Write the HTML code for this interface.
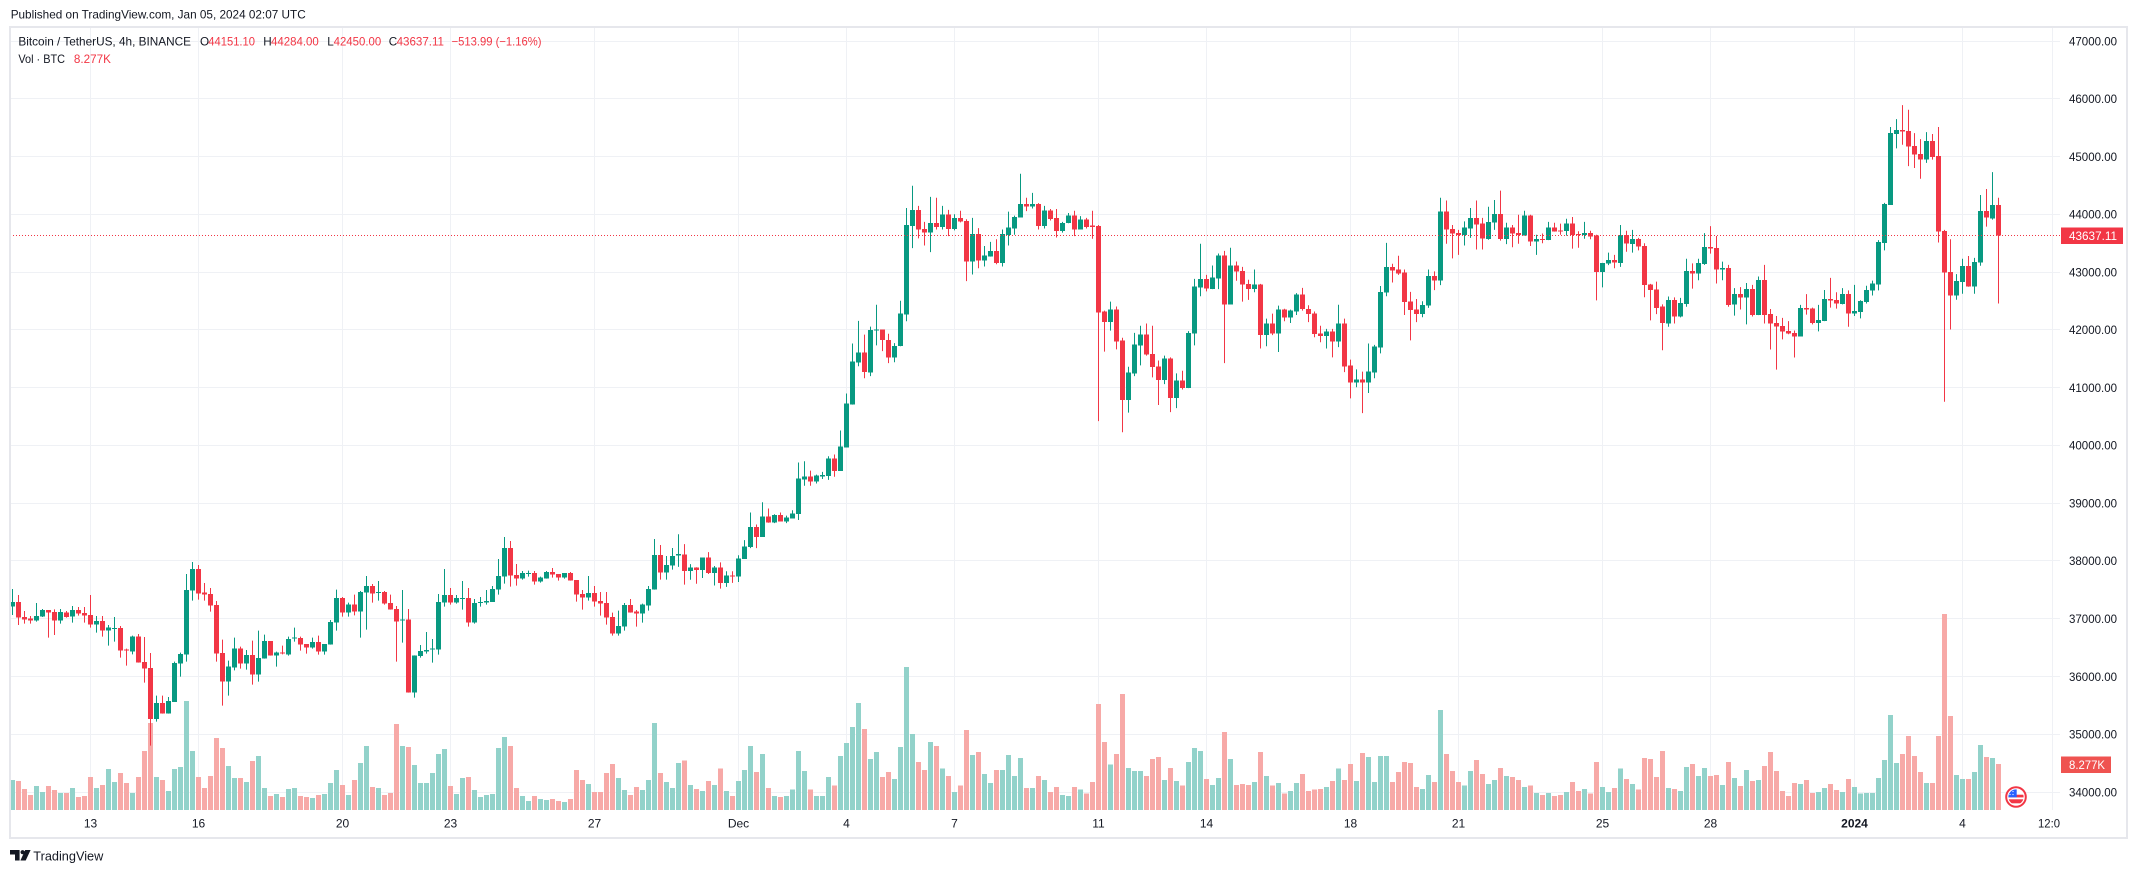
<!DOCTYPE html>
<html><head><meta charset="utf-8"><style>
html,body{margin:0;padding:0;background:#fff;}
svg{display:block;}
text{font-family:"Liberation Sans",Arial,sans-serif;}
</style></head><body>
<svg width="2137" height="873" viewBox="0 0 2137 873" xmlns="http://www.w3.org/2000/svg">
<rect width="2137" height="873" fill="#fff"/>
<!-- grid -->
<g stroke="#eff1f5" stroke-width="1" shape-rendering="crispEdges">
<path d="M10 41.5H2060M10 98.5H2060M10 156.5H2060M10 214.5H2060M10 272.5H2060M10 329.5H2060M10 387.5H2060M10 445.5H2060M10 503.5H2060M10 560.5H2060M10 618.5H2060M10 676.5H2060M10 734.5H2060M10 792.5H2060"/>
<path d="M90.5 28V810M198.5 28V810M342.5 28V810M450.5 28V810M594.5 28V810M738.5 28V810M846.5 28V810M954.5 28V810M1098.5 28V810M1206.5 28V810M1350.5 28V810M1458.5 28V810M1602.5 28V810M1710.5 28V810M1854.5 28V810M1962.5 28V810M2052.5 28V810"/>
</g>
<!-- Group A -->
<g transform="matrix(1 0 0 0.333333 0 380)" fill="none" shape-rendering="crispEdges">
<path stroke="#92d2ca" stroke-width="5" d="M12.5 1200V1290M36.5 1218V1290M42.5 1236V1290M60.5 1239V1290M72.5 1224V1290M96.5 1224V1290M108.5 1167V1290M114.5 1206V1290M132.5 1239V1290M156.5 1191V1290M168.5 1233V1290M174.5 1167V1290M180.5 1161V1290M186.5 963V1290M192.5 1113V1290M228.5 1158V1290M234.5 1194V1290M246.5 1206V1290M258.5 1128V1290M264.5 1224V1290M276.5 1242V1290M288.5 1227V1290M294.5 1224V1290M312.5 1254V1290M324.5 1242V1290M330.5 1209V1290M336.5 1170V1290"/>
<path stroke="#f7a9a7" stroke-width="5" d="M18.5 1203V1290M24.5 1227V1290M30.5 1245V1290M48.5 1218V1290M54.5 1230V1290M66.5 1239V1290M78.5 1251V1290M84.5 1248V1290M90.5 1191V1290M102.5 1215V1290M120.5 1179V1290M126.5 1209V1290M138.5 1191V1290M144.5 1113V1290M150.5 1029V1290M162.5 1200V1290M198.5 1191V1290M204.5 1224V1290M210.5 1188V1290M216.5 1074V1290M222.5 1104V1290M240.5 1194V1290M252.5 1143V1290M270.5 1248V1290M282.5 1251V1290M300.5 1248V1290M306.5 1251V1290M318.5 1245V1290"/>
<path stroke="#089981" stroke-width="5" d="M12.5 666V680M36.5 708V722M42.5 690V710M60.5 696V722M72.5 690V710M96.5 723V734M108.5 743V752M114.5 744V747M132.5 770V815M156.5 969V1017M168.5 963V1001M174.5 849V966M180.5 822V851M186.5 630V824M192.5 567V632M228.5 860V905M234.5 806V863M246.5 825V851M258.5 834V884M264.5 783V836M276.5 818V826M288.5 777V824M294.5 773V776M312.5 786V803M324.5 792V815M330.5 726V794M336.5 654V728"/>
<path stroke="#089981" stroke-width="1" d="M12.5 627V705M36.5 669V725M42.5 687V711M60.5 687V731M72.5 678V728M96.5 708V758M108.5 735V797M114.5 711V785M132.5 767V823M156.5 947V1025M168.5 951V1001M174.5 845V966M180.5 818V890M186.5 582V845M192.5 546V662M228.5 842V947M234.5 773V871M246.5 810V869M258.5 752V905M264.5 764V836M276.5 815V860M288.5 770V827M294.5 743V785M312.5 773V806M324.5 792V824M330.5 720V794M336.5 629V752"/>
<path stroke="#f23645" stroke-width="5" d="M18.5 666V713M24.5 711V719M30.5 716V721M48.5 690V698M54.5 696V722M66.5 697V711M78.5 690V701M84.5 699V707M90.5 705V734M102.5 723V752M120.5 744V812M126.5 808V812M138.5 770V848M144.5 846V866M150.5 864V1017M162.5 969V1001M198.5 567V641M204.5 638V644M210.5 642V677M216.5 675V821M222.5 819V905M240.5 806V851M252.5 825V884M270.5 783V827M282.5 818V821M300.5 774V794M306.5 792V803M318.5 786V815"/>
<path stroke="#f23645" stroke-width="1" d="M18.5 645V735M24.5 693V731M30.5 708V731M48.5 690V773M54.5 688V765M66.5 693V713M78.5 681V707M84.5 681V728M90.5 645V743M102.5 708V770M120.5 738V833M126.5 806V857M138.5 762V848M144.5 771V908M150.5 819V1097M162.5 947V1001M198.5 555V659M204.5 609V662M210.5 624V695M216.5 663V845M222.5 779V977M240.5 800V866M252.5 782V914M270.5 783V827M282.5 797V823M300.5 770V812M306.5 792V821M318.5 767V824"/>
</g>
<!-- Group B -->
<g transform="matrix(1 0 0 0.333333 0 300)" fill="none" shape-rendering="crispEdges">
<path stroke="#92d2ca" stroke-width="5" d="M348.5 1485V1530M360.5 1389V1530M366.5 1338V1530M378.5 1464V1530M402.5 1338V1530M414.5 1395V1530M420.5 1449V1530M426.5 1449V1530M432.5 1419V1530M438.5 1362V1530M444.5 1347V1530M456.5 1482V1530M462.5 1434V1530M474.5 1470V1530M480.5 1491V1530M486.5 1485V1530M492.5 1482V1530M498.5 1344V1530M504.5 1311V1530M522.5 1488V1530M528.5 1503V1530M540.5 1497V1530M546.5 1500V1530M564.5 1506V1530M588.5 1452V1530M618.5 1434V1530M624.5 1470V1530M642.5 1470V1530M648.5 1440V1530M654.5 1269V1530M666.5 1446V1530M672.5 1464V1530"/>
<path stroke="#f7a9a7" stroke-width="5" d="M342.5 1455V1530M354.5 1440V1530M372.5 1461V1530M384.5 1485V1530M390.5 1479V1530M396.5 1272V1530M408.5 1341V1530M450.5 1458V1530M468.5 1431V1530M510.5 1338V1530M516.5 1464V1530M534.5 1488V1530M552.5 1497V1530M558.5 1503V1530M570.5 1497V1530M576.5 1410V1530M582.5 1440V1530M594.5 1476V1530M600.5 1476V1530M606.5 1419V1530M612.5 1392V1530M630.5 1485V1530M636.5 1461V1530M660.5 1419V1530"/>
<path stroke="#089981" stroke-width="5" d="M348.5 914V938M360.5 876V935M366.5 858V878M378.5 876V879M402.5 959V962M414.5 1066V1178M420.5 1053V1068M426.5 1050V1055M432.5 1046V1049M438.5 906V1049M444.5 885V908M456.5 894V908M462.5 894V897M474.5 909V968M480.5 906V909M486.5 903V908M492.5 867V906M498.5 828V869M504.5 744V830M522.5 819V836M528.5 819V822M540.5 833V845M546.5 816V836M564.5 819V833M588.5 879V893M618.5 978V1001M624.5 915V980M642.5 914V941M648.5 867V917M654.5 765V869M666.5 795V818M672.5 768V797"/>
<path stroke="#089981" stroke-width="1" d="M348.5 908V950M360.5 873V1013M366.5 828V989M378.5 843V902M402.5 870V1028M414.5 1066V1193M420.5 1035V1073M426.5 996V1061M432.5 1017V1088M438.5 882V1064M444.5 807V920M456.5 885V911M462.5 843V929M474.5 897V971M480.5 891V920M486.5 870V914M492.5 858V906M498.5 777V884M504.5 711V851M522.5 813V839M528.5 812V830M540.5 830V848M546.5 813V836M564.5 819V836M588.5 828V902M618.5 932V1007M624.5 909V992M642.5 911V968M648.5 858V932M654.5 717V869M666.5 768V839M672.5 744V809"/>
<path stroke="#f23645" stroke-width="5" d="M342.5 894V938M354.5 914V935M372.5 858V881M384.5 876V911M390.5 909V929M396.5 927V965M408.5 959V1178M450.5 885V908M468.5 894V968M510.5 744V827M516.5 825V836M534.5 819V845M552.5 816V824M558.5 822V833M570.5 819V842M576.5 840V884M582.5 882V893M594.5 879V905M600.5 903V911M606.5 909V953M612.5 951V1001M630.5 915V938M636.5 935V941M660.5 765V818"/>
<path stroke="#f23645" stroke-width="1" d="M342.5 891V950M354.5 884V946M372.5 852V908M384.5 873V914M390.5 884V929M396.5 918V1085M408.5 927V1178M450.5 864V914M468.5 864V980M510.5 723V860M516.5 792V857M534.5 813V854M552.5 804V833M558.5 822V842M570.5 816V842M576.5 840V905M582.5 870V929M594.5 858V920M600.5 876V947M606.5 876V974M612.5 938V1007M630.5 897V938M636.5 930V980M660.5 735V839"/>
</g>
<!-- Groups C, D, E -->
<g transform="matrix(1 0 0 0.4457 0 110)" fill="none" shape-rendering="crispEdges">
<path stroke="#92d2ca" stroke-width="5" d="M678.5 1465V1571M690.5 1514V1571M702.5 1528V1571M714.5 1514V1571M726.5 1528V1571M738.5 1505V1571M744.5 1481V1571M750.5 1427V1571M762.5 1445V1571M774.5 1539V1571M786.5 1539V1571M792.5 1525V1571M798.5 1438V1571M804.5 1483V1571M816.5 1539V1571M822.5 1539V1571M828.5 1496V1571M840.5 1449V1571M846.5 1420V1571M852.5 1384V1571M858.5 1331V1571M870.5 1456V1571M876.5 1440V1571M894.5 1501V1571M900.5 1429V1571M906.5 1250V1571M912.5 1400V1571M930.5 1418V1571M942.5 1478V1571M954.5 1530V1571M972.5 1447V1571M984.5 1490V1571M990.5 1510V1571M1002.5 1481V1571"/>
<path stroke="#f7a9a7" stroke-width="5" d="M684.5 1460V1571M696.5 1523V1571M708.5 1505V1571M720.5 1478V1571M732.5 1539V1571M756.5 1485V1571M768.5 1521V1571M780.5 1541V1571M810.5 1525V1571M834.5 1516V1571M864.5 1389V1571M882.5 1496V1571M888.5 1485V1571M918.5 1463V1571M924.5 1481V1571M936.5 1427V1571M948.5 1494V1571M960.5 1516V1571M966.5 1391V1571M978.5 1440V1571M996.5 1481V1571"/>
<path stroke="#92d2ca" stroke-width="5" d="M1008.5 1447V1571M1014.5 1494V1571M1020.5 1454V1571M1032.5 1521V1571M1044.5 1503V1571M1062.5 1537V1571M1068.5 1539V1571M1080.5 1525V1571M1110.5 1469V1571M1128.5 1476V1571M1134.5 1483V1571M1140.5 1483V1571M1164.5 1503V1571M1176.5 1505V1571M1188.5 1463V1571M1194.5 1431V1571M1200.5 1438V1571M1212.5 1514V1571M1218.5 1499V1571M1230.5 1456V1571M1254.5 1508V1571M1266.5 1494V1571M1278.5 1510V1571M1290.5 1528V1571M1296.5 1510V1571M1326.5 1519V1571"/>
<path stroke="#f7a9a7" stroke-width="5" d="M1026.5 1521V1571M1038.5 1494V1571M1050.5 1530V1571M1056.5 1519V1571M1074.5 1519V1571M1086.5 1534V1571M1092.5 1508V1571M1098.5 1333V1571M1104.5 1418V1571M1116.5 1445V1571M1122.5 1310V1571M1146.5 1494V1571M1152.5 1456V1571M1158.5 1452V1571M1170.5 1476V1571M1182.5 1516V1571M1206.5 1501V1571M1224.5 1396V1571M1236.5 1514V1571M1242.5 1512V1571M1248.5 1514V1571M1260.5 1440V1571M1272.5 1516V1571M1284.5 1534V1571M1302.5 1490V1571M1308.5 1528V1571M1314.5 1525V1571M1320.5 1523V1571M1332.5 1505V1571"/>
<path stroke="#92d2ca" stroke-width="5" d="M1338.5 1478V1571M1356.5 1505V1571M1368.5 1452V1571M1374.5 1508V1571M1380.5 1449V1571M1386.5 1449V1571M1422.5 1523V1571M1428.5 1492V1571M1440.5 1346V1571M1464.5 1516V1571M1470.5 1483V1571M1488.5 1512V1571M1494.5 1503V1571M1506.5 1494V1571M1524.5 1519V1571M1536.5 1532V1571M1548.5 1532V1571M1566.5 1530V1571M1584.5 1523V1571M1602.5 1519V1571M1608.5 1530V1571M1620.5 1478V1571M1632.5 1512V1571"/>
<path stroke="#f7a9a7" stroke-width="5" d="M1344.5 1503V1571M1350.5 1467V1571M1362.5 1443V1571M1392.5 1508V1571M1398.5 1485V1571M1404.5 1463V1571M1410.5 1465V1571M1416.5 1519V1571M1434.5 1508V1571M1446.5 1445V1571M1452.5 1483V1571M1458.5 1508V1571M1476.5 1458V1571M1482.5 1490V1571M1500.5 1476V1571M1512.5 1496V1571M1518.5 1503V1571M1530.5 1516V1571M1542.5 1537V1571M1554.5 1539V1571M1560.5 1537V1571M1572.5 1508V1571M1578.5 1528V1571M1590.5 1534V1571M1596.5 1463V1571M1614.5 1521V1571M1626.5 1501V1571M1638.5 1525V1571M1644.5 1454V1571M1650.5 1456V1571M1656.5 1496V1571M1662.5 1438V1571"/>
<path stroke="#089981" stroke-width="5" d="M678.5 996V999M690.5 1026V1034M702.5 1004V1032M714.5 1026V1039M726.5 1044V1061M738.5 1006V1047M744.5 979V1007M750.5 936V981M762.5 912V958M774.5 909V925M786.5 914V923M792.5 905V916M798.5 827V907M804.5 822V829M816.5 820V833M822.5 819V822M828.5 782V821M840.5 755V810M846.5 659V757M852.5 564V661M858.5 544V566M870.5 494V589M876.5 492V495M894.5 529V555M900.5 457V530M906.5 258V459M912.5 224V260M930.5 253V275M942.5 235V262M954.5 242V267M972.5 278V340M984.5 327V338M990.5 316V329M1002.5 278V343"/>
<path stroke="#089981" stroke-width="1" d="M678.5 952V1025M690.5 1019V1054M702.5 1004V1050M714.5 1023V1067M726.5 1035V1070M738.5 999V1059M744.5 965V1007M750.5 903V983M762.5 880V958M774.5 907V927M786.5 910V927M792.5 898V916M798.5 791V920M804.5 788V843M816.5 818V838M822.5 812V828M828.5 777V830M840.5 719V810M846.5 636V757M852.5 524V661M858.5 473V575M870.5 486V597M876.5 437V528M894.5 523V566M900.5 428V530M906.5 220V474M912.5 170V310M930.5 195V319M942.5 215V268M954.5 234V270M972.5 242V369M984.5 305V351M990.5 296V329M1002.5 268V351"/>
<path stroke="#f23645" stroke-width="5" d="M684.5 997V1034M696.5 1026V1032M708.5 1004V1039M720.5 1026V1061M732.5 1044V1047M756.5 936V958M768.5 912V925M780.5 909V923M810.5 822V833M834.5 782V810M864.5 544V588M882.5 493V516M888.5 516V555M918.5 224V268M924.5 267V275M936.5 253V262M948.5 235V267M960.5 242V250M966.5 249V340M978.5 278V338M996.5 316V343"/>
<path stroke="#f23645" stroke-width="1" d="M684.5 974V1065M696.5 1026V1063M708.5 992V1041M720.5 1015V1074M732.5 1035V1061M756.5 930V983M768.5 894V926M780.5 903V923M810.5 809V843M834.5 773V823M864.5 504V602M882.5 493V541M888.5 502V568M918.5 215V288M924.5 251V304M936.5 197V268M948.5 224V283M960.5 226V252M966.5 245V384M978.5 265V355M996.5 290V346"/>
<path stroke="#089981" stroke-width="5" d="M1008.5 264V280M1014.5 240V266M1020.5 211V241M1032.5 211V217M1044.5 226V260M1062.5 253V272M1068.5 237V254M1080.5 246V268M1110.5 448V476M1128.5 589V651M1134.5 526V591M1140.5 504V528M1164.5 558V606M1176.5 607V646M1188.5 500V624M1194.5 396V502M1200.5 379V398M1212.5 376V402M1218.5 326V378M1230.5 349V436M1254.5 392V402M1266.5 479V505M1278.5 448V501M1290.5 450V465M1296.5 414V452M1326.5 497V507"/>
<path stroke="#089981" stroke-width="1" d="M1008.5 228V304M1014.5 237V280M1020.5 143V241M1032.5 186V221M1044.5 215V266M1062.5 251V275M1068.5 231V254M1080.5 238V268M1110.5 430V495M1128.5 576V679M1134.5 500V597M1140.5 484V573M1164.5 551V615M1176.5 591V669M1188.5 496V624M1194.5 379V528M1200.5 300V418M1212.5 349V402M1218.5 322V402M1230.5 309V436M1254.5 358V409M1266.5 468V530M1278.5 439V543M1290.5 448V478M1296.5 411V460M1326.5 491V535"/>
<path stroke="#f23645" stroke-width="5" d="M1026.5 211V216M1038.5 211V260M1050.5 226V244M1056.5 242V272M1074.5 237V268M1086.5 246V262M1092.5 259V262M1098.5 260V454M1104.5 452V476M1116.5 448V519M1122.5 517V651M1146.5 504V549M1152.5 547V577M1158.5 576V606M1170.5 558V646M1182.5 607V624M1206.5 379V400M1224.5 326V436M1236.5 349V362M1242.5 361V391M1248.5 390V402M1260.5 392V505M1272.5 479V501M1284.5 448V465M1302.5 414V447M1308.5 446V458M1314.5 457V503M1320.5 501V507M1332.5 497V519"/>
<path stroke="#f23645" stroke-width="1" d="M1026.5 197V227M1038.5 209V268M1050.5 222V248M1056.5 222V286M1074.5 226V283M1086.5 242V266M1092.5 226V289M1098.5 258V698M1104.5 450V542M1116.5 441V537M1122.5 511V723M1146.5 479V551M1152.5 484V600M1158.5 562V662M1170.5 555V678M1182.5 585V627M1206.5 370V407M1224.5 316V568M1236.5 340V383M1242.5 352V430M1248.5 381V426M1260.5 390V535M1272.5 457V505M1284.5 446V474M1302.5 399V450M1308.5 438V476M1314.5 452V510M1320.5 484V521M1332.5 491V555"/>
<path stroke="#089981" stroke-width="5" d="M1338.5 479V519M1356.5 605V611M1368.5 587V611M1374.5 531V589M1380.5 408V533M1386.5 352V410M1422.5 437V458M1428.5 372V439M1440.5 228V383M1464.5 264V280M1470.5 242V266M1488.5 251V289M1494.5 233V252M1506.5 264V289M1524.5 237V282M1536.5 289V295M1548.5 264V292M1566.5 255V272M1584.5 276V280M1602.5 343V364M1608.5 336V344M1620.5 281V343M1632.5 289V301"/>
<path stroke="#089981" stroke-width="1" d="M1338.5 437V532M1356.5 582V622M1368.5 524V635M1374.5 527V602M1380.5 395V546M1386.5 298V418M1422.5 429V465M1428.5 358V444M1440.5 197V393M1464.5 250V304M1470.5 220V287M1488.5 217V291M1494.5 202V269M1506.5 253V301M1524.5 226V282M1536.5 280V325M1548.5 251V292M1566.5 244V282M1584.5 251V289M1602.5 343V398M1608.5 320V348M1620.5 258V352M1632.5 269V320"/>
<path stroke="#f23645" stroke-width="5" d="M1344.5 479V575M1350.5 573V611M1362.5 605V611M1392.5 352V360M1398.5 358V367M1404.5 365V431M1410.5 430V449M1416.5 448V458M1434.5 372V383M1446.5 228V268M1452.5 267V277M1458.5 276V280M1476.5 242V257M1482.5 255V288M1500.5 233V289M1512.5 264V277M1518.5 276V281M1530.5 237V295M1542.5 289V292M1554.5 264V273M1560.5 270V273M1572.5 255V280M1578.5 278V281M1590.5 276V284M1596.5 282V364M1614.5 336V342M1626.5 281V300M1638.5 289V306M1644.5 305V393M1650.5 392V404M1656.5 403V444M1662.5 441V478"/>
<path stroke="#f23645" stroke-width="1" d="M1344.5 468V588M1350.5 560V647M1362.5 587V680M1392.5 345V387M1398.5 327V370M1404.5 358V460M1410.5 408V517M1416.5 424V476M1434.5 362V404M1446.5 203V300M1452.5 258V333M1458.5 269V325M1476.5 203V313M1482.5 242V313M1500.5 181V293M1512.5 258V308M1518.5 235V300M1530.5 235V305M1542.5 277V299M1554.5 253V273M1560.5 255V280M1572.5 240V311M1578.5 272V309M1590.5 271V290M1596.5 280V427M1614.5 325V355M1626.5 271V318M1638.5 287V315M1644.5 299V420M1650.5 390V472M1656.5 385V458M1662.5 436V539"/>
</g>
<!-- Group F -->
<g transform="matrix(1 0 0 0.46556 0 80)" fill="none" shape-rendering="crispEdges">
<path stroke="#92d2ca" stroke-width="5" d="M1668.5 1521V1568M1680.5 1527V1568M1686.5 1476V1568M1698.5 1495V1568M1704.5 1478V1568M1722.5 1514V1568M1734.5 1499V1568M1746.5 1482V1568M1758.5 1504V1568M1800.5 1512V1568M1818.5 1529V1568M1824.5 1521V1568M1842.5 1529V1568M1854.5 1519V1568M1860.5 1533V1568M1866.5 1531V1568M1872.5 1531V1568M1878.5 1499V1568M1884.5 1461V1568M1890.5 1364V1568M1896.5 1467V1568M1926.5 1510V1568M1956.5 1493V1568M1962.5 1501V1568M1974.5 1486V1568M1980.5 1428V1568M1992.5 1456V1568"/>
<path stroke="#f7a9a7" stroke-width="5" d="M1674.5 1523V1568M1692.5 1469V1568M1710.5 1495V1568M1716.5 1493V1568M1728.5 1465V1568M1740.5 1516V1568M1752.5 1506V1568M1764.5 1473V1568M1770.5 1443V1568M1776.5 1484V1568M1782.5 1527V1568M1788.5 1538V1568M1794.5 1510V1568M1806.5 1504V1568M1812.5 1531V1568M1830.5 1512V1568M1836.5 1525V1568M1848.5 1501V1568M1902.5 1448V1568M1908.5 1409V1568M1914.5 1452V1568M1920.5 1486V1568M1932.5 1510V1568M1938.5 1409V1568M1944.5 1147V1568M1950.5 1366V1568M1968.5 1501V1568M1986.5 1454V1568M1998.5 1469V1568"/>
<path stroke="#089981" stroke-width="5" d="M1668.5 473V523M1680.5 479V508M1686.5 410V481M1698.5 393V416M1704.5 359V395M1722.5 404V407M1734.5 460V482M1746.5 449V467M1758.5 430V505M1800.5 490V551M1818.5 516V522M1824.5 470V518M1842.5 460V481M1854.5 496V502M1860.5 475V498M1866.5 451V477M1872.5 437V452M1878.5 348V439M1884.5 266V350M1890.5 114V268M1896.5 107V116M1926.5 131V171M1956.5 432V463M1962.5 400V434M1974.5 391V444M1980.5 281V392M1992.5 268V297"/>
<path stroke="#089981" stroke-width="1" d="M1668.5 465V530M1680.5 468V510M1686.5 384V487M1698.5 384V430M1704.5 329V397M1722.5 390V430M1734.5 447V506M1746.5 436V525M1758.5 422V505M1800.5 483V551M1818.5 483V540M1824.5 451V518M1842.5 447V482M1854.5 440V507M1860.5 473V512M1866.5 442V480M1872.5 431V463M1878.5 344V452M1884.5 264V366M1890.5 101V268M1896.5 84V147M1926.5 112V178M1956.5 417V472M1962.5 384V459M1974.5 382V459M1980.5 247V399M1992.5 198V300"/>
<path stroke="#f23645" stroke-width="5" d="M1674.5 473V508M1692.5 410V416M1710.5 359V362M1716.5 361V407M1728.5 404V483M1740.5 460V467M1752.5 449V505M1764.5 430V505M1770.5 503V523M1776.5 522V530M1782.5 528V540M1788.5 539V545M1794.5 543V551M1806.5 490V493M1812.5 491V522M1830.5 470V474M1836.5 473V480M1848.5 460V502M1902.5 107V111M1908.5 110V143M1914.5 142V160M1920.5 159V171M1932.5 131V165M1938.5 163V325M1944.5 324V414M1950.5 412V463M1968.5 400V444M1986.5 281V295M1998.5 268V334"/>
<path stroke="#f23645" stroke-width="1" d="M1674.5 467V523M1692.5 394V448M1710.5 314V373M1716.5 335V437M1728.5 397V487M1740.5 445V493M1752.5 440V508M1764.5 397V523M1770.5 492V579M1776.5 507V622M1782.5 511V557M1788.5 518V546M1794.5 538V596M1806.5 460V504M1812.5 489V525M1830.5 425V489M1836.5 456V491M1848.5 452V530M1902.5 54V139M1908.5 64V185M1914.5 114V189M1920.5 127V212M1932.5 116V171M1938.5 101V349M1944.5 322V691M1950.5 342V536M1968.5 378V444M1986.5 234V315M1998.5 253V480"/>
</g>
<!-- current price line -->
<line x1="10" y1="235.5" x2="2060" y2="235.5" stroke="#f23645" stroke-width="1" stroke-dasharray="1 2"/>
<!-- header texts -->
<text x="10.7" y="18.5" font-size="12" fill="#131722" textLength="295" lengthAdjust="spacingAndGlyphs">Published on TradingView.com, Jan 05, 2024 02:07 UTC</text>
<g font-size="11.7">
<text x="18.4" y="45.7" fill="#131722" textLength="172.6" lengthAdjust="spacingAndGlyphs">Bitcoin / TetherUS, 4h, BINANCE</text>
<text x="200" y="45.7" fill="#131722">O</text>
<text x="208.3" y="45.7" fill="#f23645" textLength="46.7" lengthAdjust="spacingAndGlyphs">44151.10</text>
<text x="263.3" y="45.7" fill="#131722">H</text>
<text x="271" y="45.7" fill="#f23645" textLength="47.8" lengthAdjust="spacingAndGlyphs">44284.00</text>
<text x="327.2" y="45.7" fill="#131722">L</text>
<text x="333.6" y="45.7" fill="#f23645" textLength="47.6" lengthAdjust="spacingAndGlyphs">42450.00</text>
<text x="388.8" y="45.7" fill="#131722">C</text>
<text x="396.6" y="45.7" fill="#f23645" textLength="47.4" lengthAdjust="spacingAndGlyphs">43637.11</text>
<text x="451.6" y="45.7" fill="#f23645" textLength="89.9" lengthAdjust="spacingAndGlyphs">−513.99 (−1.16%)</text>
<text x="18.4" y="63.2" fill="#131722" textLength="46.6" lengthAdjust="spacingAndGlyphs">Vol · BTC</text>
<text x="73.9" y="63.2" fill="#f23645" textLength="37" lengthAdjust="spacingAndGlyphs">8.277K</text>
</g>
<!-- price axis labels -->
<g font-size="11.6" fill="#131722">
<text x="2069" y="45.3" textLength="48" lengthAdjust="spacingAndGlyphs">47000.00</text>
<text x="2069" y="103.1" textLength="48" lengthAdjust="spacingAndGlyphs">46000.00</text>
<text x="2069" y="160.8" textLength="48" lengthAdjust="spacingAndGlyphs">45000.00</text>
<text x="2069" y="218.6" textLength="48" lengthAdjust="spacingAndGlyphs">44000.00</text>
<text x="2069" y="276.4" textLength="48" lengthAdjust="spacingAndGlyphs">43000.00</text>
<text x="2069" y="334.2" textLength="48" lengthAdjust="spacingAndGlyphs">42000.00</text>
<text x="2069" y="391.9" textLength="48" lengthAdjust="spacingAndGlyphs">41000.00</text>
<text x="2069" y="449.7" textLength="48" lengthAdjust="spacingAndGlyphs">40000.00</text>
<text x="2069" y="507.5" textLength="48" lengthAdjust="spacingAndGlyphs">39000.00</text>
<text x="2069" y="565.2" textLength="48" lengthAdjust="spacingAndGlyphs">38000.00</text>
<text x="2069" y="623" textLength="48" lengthAdjust="spacingAndGlyphs">37000.00</text>
<text x="2069" y="680.8" textLength="48" lengthAdjust="spacingAndGlyphs">36000.00</text>
<text x="2069" y="738.5" textLength="48" lengthAdjust="spacingAndGlyphs">35000.00</text>
<text x="2069" y="796.3" textLength="48" lengthAdjust="spacingAndGlyphs">34000.00</text>
</g>
<rect x="2061" y="227.5" width="62" height="16.5" fill="#f23645"/>
<text x="2069" y="240" font-size="11.6" fill="#fff" textLength="48" lengthAdjust="spacingAndGlyphs">43637.11</text>
<rect x="2061" y="756.5" width="50" height="16.5" fill="#ef5350"/>
<text x="2069" y="769" font-size="11.6" fill="#fff" textLength="36" lengthAdjust="spacingAndGlyphs">8.277K</text>
<!-- time axis labels -->
<g font-size="12" fill="#131722" text-anchor="middle">
<text x="90.5" y="827.5">13</text>
<text x="198.5" y="827.5">16</text>
<text x="342.5" y="827.5">20</text>
<text x="450.5" y="827.5">23</text>
<text x="594.5" y="827.5">27</text>
<text x="738.5" y="827.5">Dec</text>
<text x="846.5" y="827.5">4</text>
<text x="954.5" y="827.5">7</text>
<text x="1098.5" y="827.5">11</text>
<text x="1206.5" y="827.5">14</text>
<text x="1350.5" y="827.5">18</text>
<text x="1458.5" y="827.5">21</text>
<text x="1602.5" y="827.5">25</text>
<text x="1710.5" y="827.5">28</text>
<text x="1854.5" y="827.5" font-weight="bold">2024</text>
<text x="1962.5" y="827.5">4</text>
</g>
<text x="2038" y="827.5" font-size="12" fill="#131722" textLength="22" lengthAdjust="spacingAndGlyphs">12:0</text>
<!-- US flag icon -->
<defs><clipPath id="fc"><circle cx="2016" cy="797" r="7.6"/></clipPath></defs>
<circle cx="2016" cy="797" r="9.8" fill="#fff" stroke="#f23645" stroke-width="2"/>
<g clip-path="url(#fc)">
<rect x="2007" y="794.7" width="18" height="2.7" fill="#f23645"/>
<rect x="2007" y="799.3" width="18" height="4" fill="#f23645"/>
<rect x="2007" y="789" width="9.7" height="8.3" fill="#2962ff"/>
<g fill="#fff"><circle cx="2010" cy="791.5" r="0.6"/><circle cx="2013" cy="791.5" r="0.6"/><circle cx="2010" cy="794.5" r="0.6"/><circle cx="2013" cy="794.5" r="0.6"/></g>
</g>
<!-- frame -->
<rect x="10" y="27" width="2117" height="811" fill="none" stroke="#e6e7ec" stroke-width="2"/>
<!-- TradingView logo -->
<g fill="#131722">
<path d="M10 850h9.6v10.5h-4.6v-6h-5z"/>
<circle cx="22.6" cy="852.2" r="2.1"/>
<path d="M25.2 850h5.4l-4.9 10.5h-5.3z"/>
</g>
<text x="33.3" y="860.5" font-size="13" fill="#131722" textLength="70" lengthAdjust="spacingAndGlyphs">TradingView</text>
</svg>
</body></html>
